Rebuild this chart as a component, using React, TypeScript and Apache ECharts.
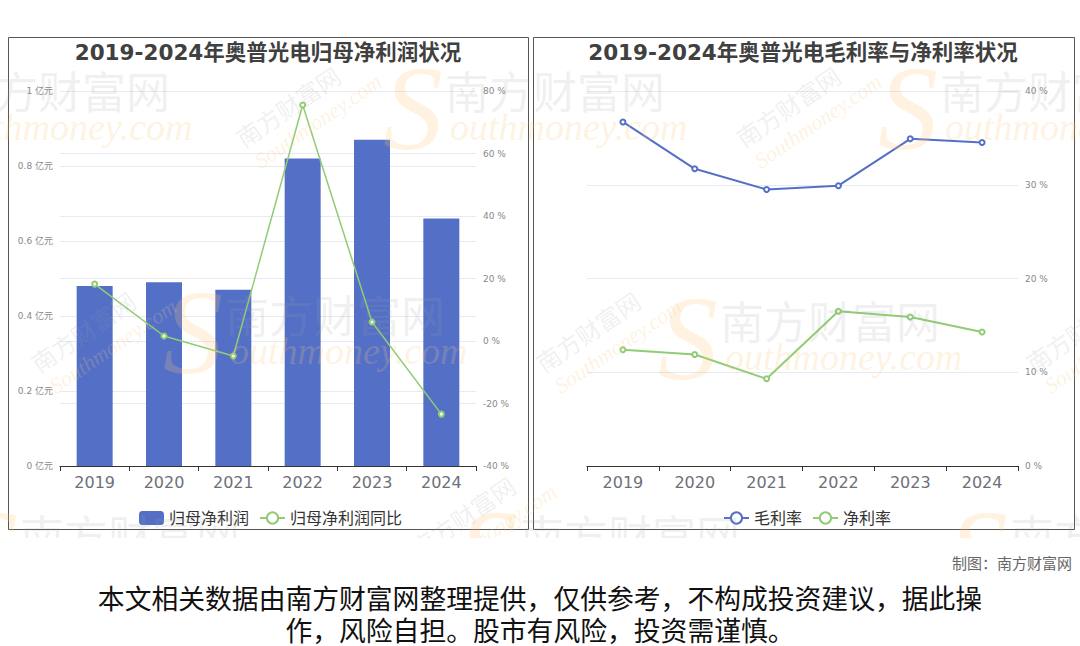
import React, { useEffect, useRef } from "react";
import * as echarts from "echarts";

const years = ["2019", "2020", "2021", "2022", "2023", "2024"];
const netProfit = [0.48, 0.49, 0.47, 0.82, 0.87, 0.66];
const netProfitYoY = [18.2, 1.6, -4.8, 75.5, 6.1, -23.4];
const grossMargin = [36.7, 31.7, 29.5, 29.9, 34.9, 34.5];
const netMargin = [12.4, 11.9, 9.3, 16.5, 15.9, 14.3];

const leftTitle = "2019-2024年奥普光电归母净利润状况";
const rightTitle = "2019-2024年奥普光电毛利率与净利率状况";
const footerSource = "制图：南方财富网";
const footerLine1 = "本文相关数据由南方财富网整理提供，仅供参考，不构成投资建议，据此操";
const footerLine2 = "作，风险自担。股市有风险，投资需谨慎。";

const BLUE = "#5470C6";
const GREEN = "#91CC75";
const FONT = "'DejaVu Sans', 'Noto Sans CJK SC', sans-serif";
const CJK = "'Noto Sans CJK SC', sans-serif";
const WM_GRAY = "rgba(160,160,160,0.17)";
const WM_ORANGE = "rgba(253,196,120,0.22)";

function watermarks(): any[] {
  const out: any[] = [];
  const flat = [
    [-50, 68], [445, 68], [940, 68],
    [225, 292], [720, 298],
    [20, 512], [520, 512], [1010, 512],
  ];
  flat.forEach(([x, y]) => {
    out.push({
      type: "text", x: x - 62, y: y - 20, silent: true, z: 200,
      style: { text: "S", fill: WM_ORANGE, font: "italic 120px 'Liberation Serif', serif", textVerticalAlign: "top" },
    });
    out.push({
      type: "text", x, y, silent: true, z: 200,
      style: { text: "南方财富网", fill: WM_GRAY, font: `44px ${CJK}`, textVerticalAlign: "top" },
    });
    out.push({
      type: "text", x: x + 5, y: y + 40, silent: true, z: 200,
      style: { text: "outhmoney.com", fill: WM_ORANGE, font: "italic 38px 'Liberation Serif', serif", textVerticalAlign: "top" },
    });
  });
  const rot = [
    [245, 150], [745, 150],
    [40, 375], [545, 375], [1035, 375],
    [420, 560],
  ];
  rot.forEach(([x, y]) => {
    out.push({
      type: "text", x, y, rotation: 0.6, silent: true, z: 200,
      style: { text: "南方财富网", fill: WM_GRAY, font: `24px ${CJK}`, textVerticalAlign: "bottom" },
    });
    out.push({
      type: "text", x: x + 18, y: y + 22, rotation: 0.6, silent: true, z: 200,
      style: { text: "Southmoney.com", fill: WM_ORANGE, font: "italic 22px 'Liberation Serif', serif", textVerticalAlign: "bottom" },
    });
  });
  return out;
}

const axisLabelGray = "#6E7079";
const splitColor = "#E6EAF2";

export default function App() {
  const chartRef = useRef<HTMLDivElement>(null);
  const footRef = useRef<HTMLDivElement>(null);

  useEffect(() => {
    if (!chartRef.current || !footRef.current) return;
    const chart = echarts.init(chartRef.current, undefined, { renderer: "svg" });
    const foot = echarts.init(footRef.current, undefined, { renderer: "svg" });

    const catAxis = (gridIndex: number) => ({
      type: "category",
      gridIndex,
      data: years,
      boundaryGap: true,
      axisLine: { lineStyle: { color: "#333", width: 1 } },
      axisTick: { show: true, length: 5, lineStyle: { color: "#333" } },
      axisLabel: { color: axisLabelGray, fontSize: 16, margin: 8, fontFamily: FONT },
    });

    const valLabel = (fmt: (v: number) => string) => ({
      color: "#888", fontSize: 9, margin: 7, fontFamily: FONT, formatter: fmt,
    });

    const legendText = { color: "#333", fontSize: 16, fontFamily: FONT };

    const option: any = {
      animation: false,
      textStyle: { fontFamily: FONT },
      grid: [
        { left: 60, width: 416, top: 91, height: 375 },
        { left: 587, width: 431, top: 91, height: 375 },
      ],
      xAxis: [catAxis(0), catAxis(1)],
      yAxis: [
        {
          type: "value", gridIndex: 0, position: "left", min: 0, max: 1, interval: 0.2,
          axisLine: { show: false }, axisTick: { show: false },
          axisLabel: valLabel((v: number) => `${v} 亿元`),
          splitLine: { lineStyle: { color: splitColor } },
        },
        {
          type: "value", gridIndex: 0, position: "right", min: -40, max: 80, interval: 20,
          axisLine: { show: false }, axisTick: { show: false },
          axisLabel: valLabel((v: number) => `${v} %`),
          splitLine: { lineStyle: { color: splitColor } },
        },
        {
          type: "value", gridIndex: 1, position: "right", min: 0, max: 40, interval: 10,
          axisLine: { show: false }, axisTick: { show: false },
          axisLabel: valLabel((v: number) => `${v} %`),
          splitLine: { lineStyle: { color: splitColor } },
        },
      ],
      legend: [
        {
          left: 134, top: 505, itemWidth: 25, itemHeight: 14, itemGap: 10,
          textStyle: legendText,
          data: ["归母净利润", "归母净利润同比"],
        },
        {
          left: 718, top: 505, itemWidth: 25, itemHeight: 14, itemGap: 10,
          textStyle: legendText,
          data: ["毛利率", "净利率"],
        },
      ],
      series: [
        {
          name: "归母净利润", type: "bar", xAxisIndex: 0, yAxisIndex: 0,
          data: netProfit, barWidth: 36, itemStyle: { color: BLUE },
        },
        {
          name: "归母净利润同比", type: "line", xAxisIndex: 0, yAxisIndex: 1,
          data: netProfitYoY, symbol: "emptyCircle", symbolSize: 5,
          lineStyle: { color: GREEN, width: 1.5 }, itemStyle: { color: GREEN },
        },
        {
          name: "毛利率", type: "line", xAxisIndex: 1, yAxisIndex: 2,
          data: grossMargin, symbol: "emptyCircle", symbolSize: 5,
          lineStyle: { color: BLUE, width: 2 }, itemStyle: { color: BLUE },
        },
        {
          name: "净利率", type: "line", xAxisIndex: 1, yAxisIndex: 2,
          data: netMargin, symbol: "emptyCircle", symbolSize: 5,
          lineStyle: { color: GREEN, width: 2 }, itemStyle: { color: GREEN },
        },
      ],
      graphic: [
        {
          type: "rect", shape: { x: 8.5, y: 37.5, width: 520, height: 492 }, silent: true,
          style: { fill: "none", stroke: "#555", lineWidth: 1 }, z: 0,
        },
        {
          type: "rect", shape: { x: 533.5, y: 37.5, width: 541, height: 492 }, silent: true,
          style: { fill: "none", stroke: "#555", lineWidth: 1 }, z: 0,
        },
        {
          type: "text", x: 268, y: 52, silent: true,
          style: { text: leftTitle, fill: "#404040", font: `bold 21.5px ${FONT}`, textAlign: "center", textVerticalAlign: "middle" },
        },
        {
          type: "text", x: 803, y: 52, silent: true,
          style: { text: rightTitle, fill: "#404040", font: `bold 21.5px ${FONT}`, textAlign: "center", textVerticalAlign: "middle" },
        },
        ...watermarks(),
      ],
    };
    chart.setOption(option);

    foot.setOption({
      animation: false,
      graphic: [
        {
          type: "text", x: 1072, y: 24, silent: true,
          style: { text: footerSource, fill: "#666", font: `15px ${CJK}`, textAlign: "right", textVerticalAlign: "middle" },
        },
        {
          type: "text", x: 540, y: 59, silent: true,
          style: { text: footerLine1, fill: "#111", font: `26.8px ${CJK}`, textAlign: "center", textVerticalAlign: "middle" },
        },
        {
          type: "text", x: 540, y: 91, silent: true,
          style: { text: footerLine2, fill: "#111", font: `26.8px ${CJK}`, textAlign: "center", textVerticalAlign: "middle" },
        },
      ],
    });

    return () => {
      chart.dispose();
      foot.dispose();
    };
  }, []);

  return (
    <div style={{ position: "absolute", left: 0, top: 0, width: 1080, height: 646, background: "#fff", overflow: "hidden" }}>
      <div ref={chartRef} style={{ position: "absolute", left: 0, top: 0, width: 1080, height: 538, overflow: "hidden" }} />
      <div ref={footRef} style={{ position: "absolute", left: 0, top: 538, width: 1080, height: 108 }} />
    </div>
  );
}
